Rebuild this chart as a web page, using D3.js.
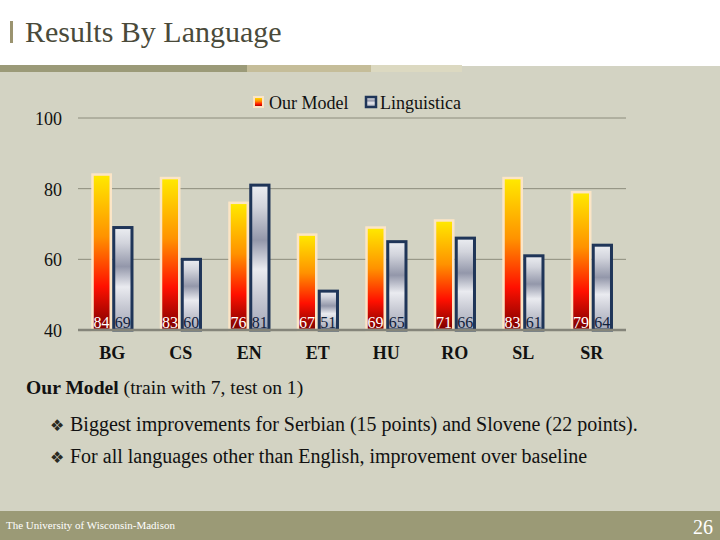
<!DOCTYPE html>
<html>
<head>
<meta charset="utf-8">
<script src="https://cdn.jsdelivr.net/npm/d3@7"></script>
<style>
	body { margin: 0; }
	svg { display: block; font-family: "Liberation Serif", "Times New Roman", serif; }
</style>
</head>
<body>
<div id="slide"></div>
<script>
(function() {
	"use strict";
	var languages = ["BG", "CS", "EN", "ET", "HU", "RO", "SL", "SR"];
	var series = ["Our Model", "Linguistica"];
	var ourModel = [84, 83, 76, 67, 69, 71, 83, 79];
	var linguistica = [69, 60, 81, 51, 65, 66, 61, 64];
	var yTicks = [40, 60, 80, 100];
	var bullets = [
		"Biggest improvements for Serbian (15 points) and Slovene (22 points).",
		"For all languages other than English, improvement over baseline"
	];

	var W = 720, H = 540;
	var svg = d3.select("#slide").append("svg")
	.attr("width", W)
	.attr("height", H);

	var defs = svg.append("defs");
	var gOrange = defs.append("linearGradient")
	.attr("id", "gOrange")
	.attr("x1", 0).attr("y1", 0).attr("x2", 0).attr("y2", 1);
	[[0, "#ffea00"], [0.4, "#ff9200"], [0.72, "#ff1000"], [1, "#7a0000"]].forEach(function(s) {
		gOrange.append("stop").attr("offset", s[0]).attr("stop-color", s[1]);
	});
	var gSilver = defs.append("linearGradient")
	.attr("id", "gSilver")
	.attr("x1", 0).attr("y1", 0).attr("x2", 0).attr("y2", 1);
	[[0, "#eceef2"], [0.15, "#d2d4dc"], [0.38, "#9397aa"], [0.58, "#eaebf0"], [0.78, "#c6c8d2"], [1, "#a4a8b8"]].forEach(function(s) {
		gSilver.append("stop").attr("offset", s[0]).attr("stop-color", s[1]);
	});

	// slide background
	svg.append("rect").attr("width", W).attr("height", H).attr("fill", "#d3d3c3");
	svg.append("rect").attr("width", W).attr("height", 66).attr("fill", "#ffffff");
	[[0, 247, "#9b9a78"], [247, 371, "#c5bd99"], [371, 462, "#dcd9c1"]].forEach(function(s) {
		svg.append("rect")
		.attr("x", s[0]).attr("y", 65)
		.attr("width", s[1] - s[0]).attr("height", 7)
		.attr("fill", s[2]);
	});
	svg.append("rect").attr("x", 10).attr("y", 21).attr("width", 3).attr("height", 22).attr("fill", "#9b9470");
	svg.append("text")
	.attr("x", 25).attr("y", 42)
	.attr("font-size", 30)
	.attr("fill", "#4a4a3a")
	.text("Results By Language");

	// chart
	var x0 = d3.scaleBand().domain(languages).range([78, 626]).paddingInner(0.38).paddingOuter(0.19);
	var x1 = d3.scaleBand().domain(series).range([0, x0.bandwidth()]);
	var y = d3.scaleLinear().domain([40, 100]).range([330, 118]);

	var chart = svg.append("g");
	chart.selectAll("line.grid").data(yTicks.slice(1)).enter().append("line")
	.attr("class", "grid")
	.attr("x1", 78).attr("x2", 626)
	.attr("y1", function(d) { return y(d); })
	.attr("y2", function(d) { return y(d); })
	.attr("stroke", "#8c8c7c")
	.attr("stroke-width", 1);
	chart.selectAll("text.tick").data(yTicks).enter().append("text")
	.attr("class", "tick")
	.attr("x", 62)
	.attr("y", function(d) { return y(d) + 7; })
	.attr("text-anchor", "end")
	.attr("font-size", 18)
	.attr("fill", "#111")
	.text(function(d) { return d; });

	var rows = languages.map(function(l, i) {
		return { lang: l, vals: [ourModel[i], linguistica[i]] };
	});
	var groups = chart.selectAll("g.lang").data(rows).enter().append("g")
	.attr("class", "lang")
	.attr("transform", function(d) { return "translate(" + x0(d.lang) + ",0)"; });

	function pairs(d) {
		return d.vals.map(function(v, k) { return { s: series[k], v: v }; });
	}

	groups.selectAll("rect").data(pairs).enter().append("rect")
	.attr("x", function(d) { return x1(d.s) + 1.5; })
	.attr("width", x1.bandwidth() - 3)
	.attr("y", function(d) { return y(d.v); })
	.attr("height", function(d) { return y(40) - y(d.v); })
	.attr("fill", function(d) { return d.s === series[0] ? "url(#gOrange)" : "url(#gSilver)"; })
	.attr("stroke", function(d) { return d.s === series[0] ? "#fbe5c6" : "#1f3558"; })
	.attr("stroke-width", function(d) { return d.s === series[0] ? 2.5 : 3; });

	groups.selectAll("text.val").data(pairs).enter().append("text")
	.attr("class", "val")
	.attr("x", function(d) { return x1(d.s) + x1.bandwidth() / 2; })
	.attr("y", y(40) - 2)
	.attr("text-anchor", "middle")
	.attr("font-size", 16)
	.attr("fill", function(d) { return d.s === series[0] ? "#ffffff" : "#10203a"; })
	.text(function(d) { return d.v; });

	chart.append("line")
	.attr("x1", 78).attr("x2", 626)
	.attr("y1", y(40)).attr("y2", y(40))
	.attr("stroke", "#85857a")
	.attr("stroke-width", 2.5);

	chart.selectAll("text.cat").data(languages).enter().append("text")
	.attr("class", "cat")
	.attr("x", function(d) { return x0(d) + x0.bandwidth() / 2; })
	.attr("y", 359)
	.attr("text-anchor", "middle")
	.attr("font-size", 18)
	.attr("font-weight", "bold")
	.attr("fill", "#111")
	.text(function(d) { return d; });

	// legend
	var legend = svg.append("g");
	legend.append("rect").attr("x", 254).attr("y", 97).attr("width", 9).attr("height", 10)
	.attr("fill", "url(#gOrange)").attr("stroke", "#fbe5c6").attr("stroke-width", 2);
	legend.append("text").attr("x", 269).attr("y", 109).attr("font-size", 18).attr("fill", "#111").text(series[0]);
	legend.append("rect").attr("x", 366).attr("y", 97).attr("width", 10).attr("height", 10)
	.attr("fill", "url(#gSilver)").attr("stroke", "#1f3558").attr("stroke-width", 2.5);
	legend.append("text").attr("x", 380).attr("y", 109).attr("font-size", 18).attr("fill", "#111").text(series[1]);

	// notes
	var note = svg.append("text").attr("x", 26).attr("y", 394).attr("font-size", 19.6).attr("fill", "#111");
	note.append("tspan").attr("font-weight", "bold").text("Our Model");
	note.append("tspan").text(" (train with 7, test on 1)");
	bullets.forEach(function(b, i) {
		svg.append("text").attr("x", 50).attr("y", 431 + i * 32)
		.attr("font-family", "DejaVu Sans").attr("font-size", 16).attr("fill", "#2a2a22")
		.text("\u2756");
		svg.append("text").attr("x", 70).attr("y", 431 + i * 32)
		.attr("font-size", 20).attr("fill", "#111")
		.text(b);
	});

	// footer
	svg.append("rect").attr("x", 0).attr("y", 511).attr("width", W).attr("height", 29).attr("fill", "#9b9a76");
	svg.append("text").attr("x", 6).attr("y", 529).attr("font-size", 11)
	.attr("fill", "#ffffff").text("The University of Wisconsin-Madison");
	svg.append("text").attr("x", 713).attr("y", 534).attr("font-size", 20).attr("text-anchor", "end")
	.attr("fill", "#ffffff").text("26");
}());
</script>
</body>
</html>
